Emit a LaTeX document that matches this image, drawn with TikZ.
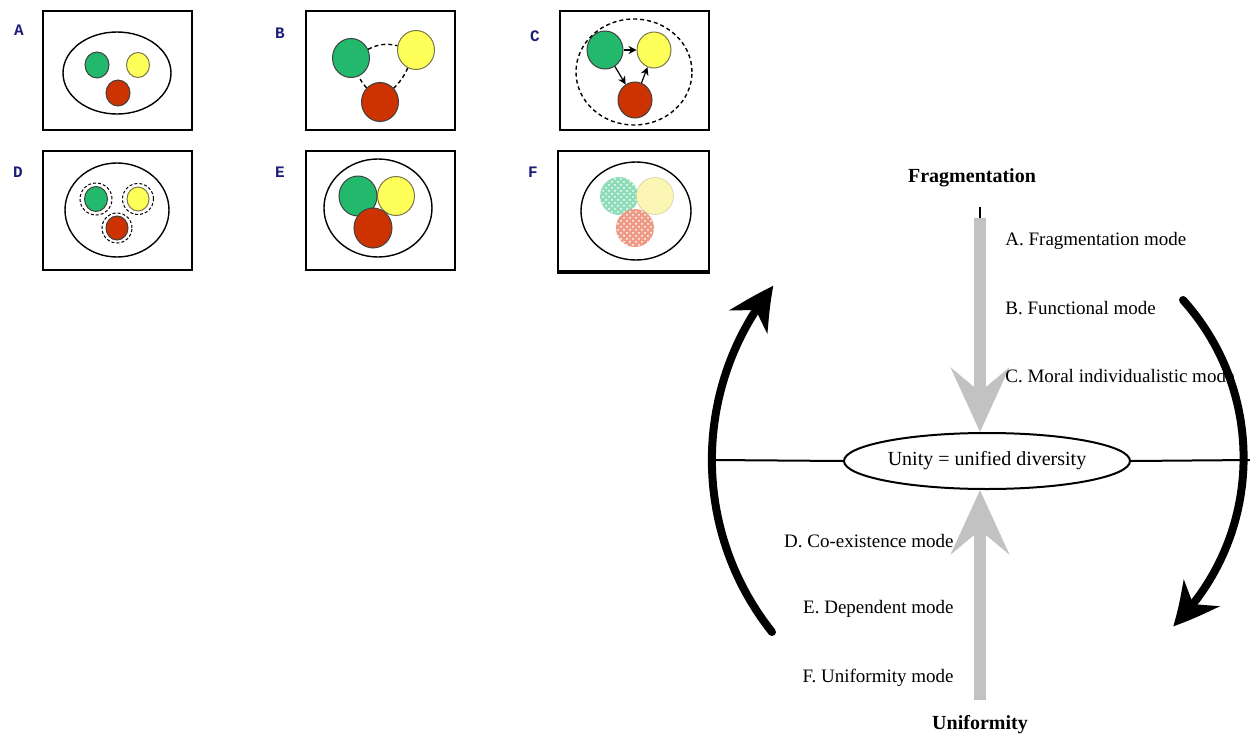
\documentclass[tikz,border=0pt]{standalone}
\usepackage{fontspec}
\setmainfont{Liberation Serif}
\newfontfamily\lblfont{Liberation Mono}
\usetikzlibrary{arrows.meta,shapes.geometric,patterns,bending}
\definecolor{cgreen}{HTML}{22B96C}
\definecolor{cyellow}{HTML}{FFFF5A}
\definecolor{cred}{HTML}{CC3300}
\definecolor{lblue}{HTML}{1C1C7A}
\definecolor{agrey}{HTML}{C2C2C2}
\definecolor{fgreen}{HTML}{8EDDB8}
\definecolor{fyellow}{HTML}{FBF6B4}
\definecolor{fred}{HTML}{EE9A86}
\begin{document}
\begin{tikzpicture}[x=0.5pt,y=-0.5pt,
  panel/.style={draw,line width=1pt},
  plabel/.style={text=lblue,font=\lblfont\bfseries\fontsize{8}{9}\selectfont,inner sep=0},
  ring/.style={draw,ellipse,line width=0.7pt,inner sep=0},
  dring/.style={ring,dashed,dash pattern=on 2pt off 1.5pt},
  blob/.style={ellipse,draw=black!75,line width=0.5pt,inner sep=0,minimum width=#1,minimum height=#1+1pt},
  gblob/.style={blob=#1,fill=cgreen},
  yblob/.style={blob=#1,fill=cyellow,draw=black!60!yellow},
  rblob/.style={blob=#1,fill=cred},
  dcirc/.style={circle,draw,dashed,dash pattern=on 1.5pt off 1pt,line width=0.5pt,inner sep=0,minimum size=#1},
  smallarrow/.style={line width=0.6pt,-{Stealth[length=4pt,width=4pt]}},
  title/.style={font=\bfseries\fontsize{10}{12}\selectfont,inner sep=0},
  mode/.style={font=\fontsize{9.5}{11}\selectfont,inner sep=0},
  unity/.style={draw,ellipse,line width=1pt,minimum width=143pt,minimum height=28pt,inner sep=0,font=\fontsize{10}{12}\selectfont},
  greyarrow/.style={draw=agrey,line width=6pt,-{Stealth[length=32pt,width=29pt,inset=12pt]}},
  bigarc/.style={line width=4pt,line cap=round,-{Stealth[length=22pt,width=22pt,inset=7pt,bend]}}
]
\useasboundingbox (0,0) rectangle (1250,734);
\clip (0,0) rectangle (1250,734);

% ---------- Panel A ----------
\node[plabel] (la) at (19,30) {A};
\draw[panel] (43,11) rectangle (192,130);
\node[ring,minimum width=54pt,minimum height=41pt] (ea) at (117,73) {};
\node[gblob=12pt] (ag) at (97,65) {};
\node[yblob=11.5pt] (ay) at (138,65) {};
\node[rblob=12pt] (ar) at (118,93) {};

% ---------- Panel B ----------
\node[plabel] (lb) at (280,33) {B};
\draw[panel] (306,11) rectangle (455,130);
\node[gblob=18.5pt] (bg) at (351,58) {};
\node[yblob=18.5pt] (by) at (416,50) {};
\node[rblob=18.5pt] (br) at (380,102) {};
\draw[dashed,dash pattern=on 2pt off 1.5pt,line width=0.7pt] (bg) to[bend left=20] (by);
\draw[dashed,dash pattern=on 2pt off 1.5pt,line width=0.7pt] (by) to[bend left=10] (br);
\draw[dashed,dash pattern=on 2pt off 1.5pt,line width=0.7pt] (br) to[bend left=10] (bg);

% ---------- Panel C ----------
\node[plabel] (lc) at (535,36) {C};
\draw[panel] (560,11) rectangle (709,130);
\node[dring,minimum width=58pt,minimum height=53pt] (ec) at (634,72) {};
\node[gblob=18pt] (cg) at (605,50) {};
\node[yblob=17pt] (cy) at (654,50) {};
\node[rblob=17pt] (cr) at (635,100) {};
\draw[smallarrow] (cg) -- (cy);
\draw[smallarrow] (cg) -- (cr);
\draw[smallarrow] (cr) -- (cy);

% ---------- Panel D ----------
\node[plabel] (ld) at (18,172) {D};
\draw[panel] (43,151) rectangle (192,270);
\node[ring,minimum width=52pt,minimum height=47pt] (ed) at (117,210) {};
\node[dcirc=16pt] (dgd) at (96,199) {};
\node[dcirc=15.5pt] (dyd) at (138,199) {};
\node[dcirc=15pt] (drd) at (117,228) {};
\node[gblob=11.5pt] (dg) at (96,199) {};
\node[yblob=11pt] (dy) at (138,199) {};
\node[rblob=11pt] (dr) at (117,228) {};

% ---------- Panel E ----------
\node[plabel] (le) at (280,172) {E};
\draw[panel] (306,151) rectangle (455,270);
\node[ring,minimum width=54pt,minimum height=49pt] (ee) at (378,208) {};
\node[gblob=19pt] (eg) at (358,196) {};
\node[yblob=18.5pt] (ey) at (396,196) {};
\node[rblob=19pt] (er) at (373,228) {};

% ---------- Panel F ----------
\node[plabel] (lf) at (533,172) {F};
\draw[panel] (558,151) rectangle (709,271);
\draw[line width=2pt] (557,271.5) -- (710,271.5);
\node[ring,minimum width=55pt,minimum height=49pt] (ef) at (636,211) {};
\node[circle,inner sep=0,minimum size=19pt,fill=fgreen,postaction={pattern=crosshatch dots,pattern color=white}] (fg) at (619,196) {};
\node[circle,inner sep=0,minimum size=18.5pt,fill=fyellow,draw=yellow!50!black!40,line width=0.3pt] (fy) at (655,196) {};
\node[circle,inner sep=0,minimum size=19pt,fill=fred,postaction={pattern=crosshatch dots,pattern color=white}] (fr) at (635,228) {};

% ---------- Right diagram ----------
\node[title] (frag) at (972,178) {Fragmentation};
\node[title] (unif) at (980,725) {Uniformity};
\node[unity] (uni) at (987,461) {Unity = unified diversity};

\coordinate (lL) at (713,460);
\coordinate (lR) at (1252,460);
\draw[line width=1pt] (lL) -- (uni.west);
\draw[line width=1pt] (uni.east) -- (lR);

\coordinate (tick) at (980,207);
\coordinate (ftop) at (980,218);
\draw[line width=0.6pt] (tick) -- (ftop);
\draw[greyarrow] (ftop) -- (ftop |- uni.north);
\coordinate (ubot) at (980,700);
\draw[greyarrow] (ubot) -- (ubot |- uni.south);

\node[mode,anchor=west] (ma) at (1005,241) {A. Fragmentation mode};
\node[mode,anchor=west] (mb) at (1005,308) {B. Functional mode};
\node[mode,anchor=west] (mc) at (1005,376) {C. Moral individualistic mode};
\node[mode,anchor=east] (md) at (954,541) {D. Co-existence mode};
\node[mode,anchor=east] (me) at (954,609) {E. Dependent mode};
\node[mode,anchor=east] (mf) at (954,678) {F. Uniformity mode};

\coordinate (lstart) at (772,632);
\draw[bigarc] (lstart) arc[start angle=218.5,end angle=141,radius=138.25pt];
\coordinate (rstart) at (1183,300);
\draw[bigarc] (rstart) arc[start angle=42,end angle=-45.5,radius=118pt];
\end{tikzpicture}
\end{document}
